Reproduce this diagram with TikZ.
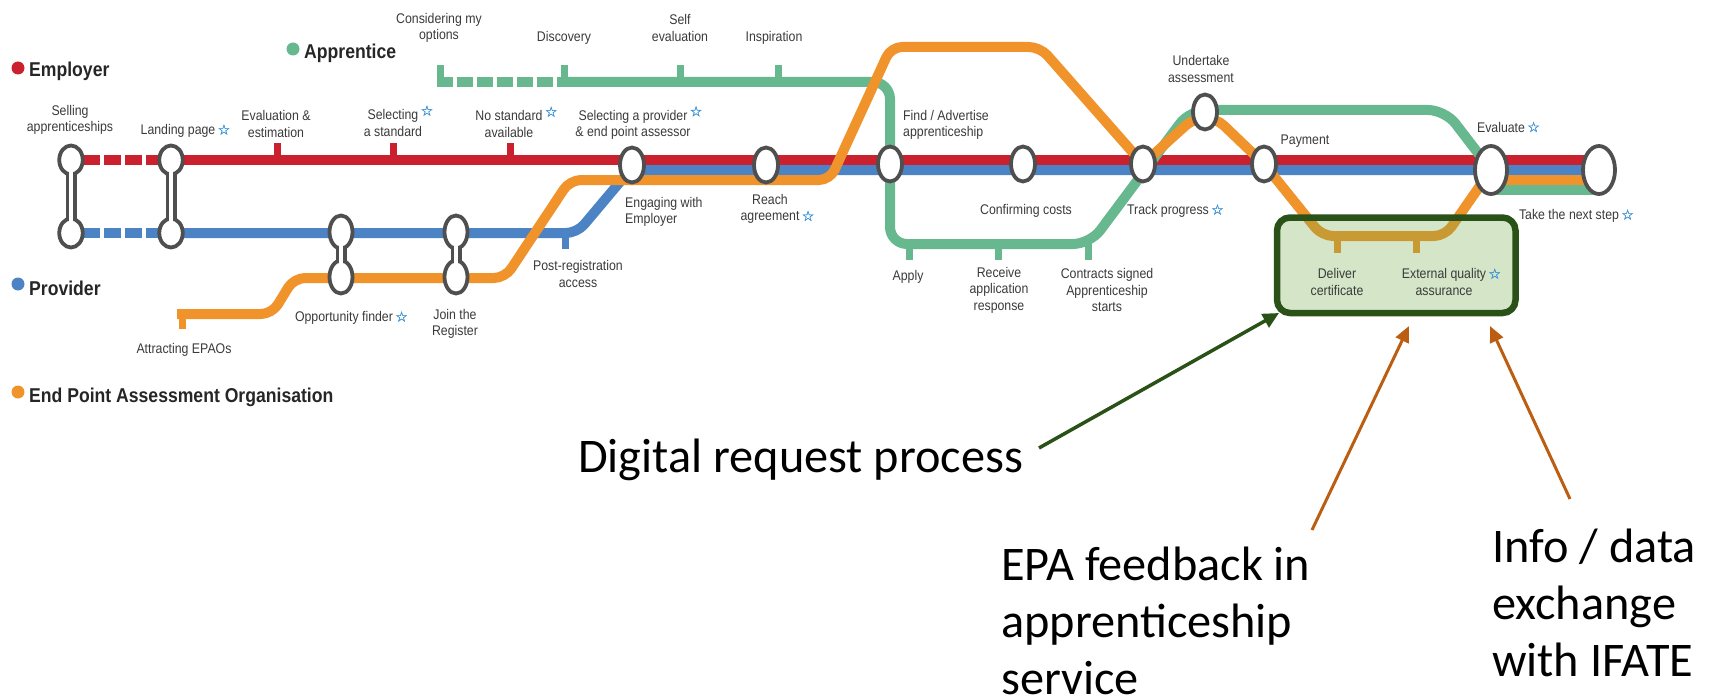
\documentclass[tikz,border=0pt]{standalone}
\usepackage{fontspec}
\usetikzlibrary{arrows.meta,backgrounds,shapes.geometric}
\setmainfont{Liberation Sans}
\newfontfamily\tubefont[FakeStretch=0.88]{Liberation Sans}
\newfontfamily\notefont{Carlito}
\newfontfamily\starfont[FakeBold=1.4]{DejaVu Sans}
\definecolor{tubered}{HTML}{CB202D}
\definecolor{tubeblue}{HTML}{4B83C4}
\definecolor{tubegreen}{HTML}{67B88E}
\definecolor{tubeorange}{HTML}{F0932B}
\definecolor{stopgray}{HTML}{4F4F4F}
\definecolor{labelgray}{HTML}{3A3A3A}
\definecolor{starblue}{HTML}{3F94D6}
\definecolor{boxgreen}{HTML}{70AD47}
\definecolor{boxedge}{HTML}{2A5218}
\definecolor{notebrown}{HTML}{BC5E12}
\newcommand{\bluestar}{\textcolor{starblue}{\starfont\fontsize{14}{14}\selectfont ☆}}
\newcommand{\upstar}{\rlap{\raisebox{4pt}{\,\bluestar}}}
\newcommand{\sidestar}{\rlap{\,\bluestar}}
\tikzset{
	tube/.style={line width=10pt,line join=round,rounded corners=11pt},
	redtube/.style={tube,tubered},
	bluetube/.style={tube,tubeblue},
	greentube/.style={tube,tubegreen,rounded corners=17pt},
	orangetube/.style={tube,tubeorange},
	dashtube/.style={dash pattern=on 17pt off 4pt,dash phase=9pt},
	branch/.style={line width=7pt},
	stop/.style={ellipse,draw=stopgray,fill=white,line width=3.8pt,inner sep=0pt,minimum width=23.5pt,minimum height=29pt},
	waiststop/.style={stop,minimum width=23pt,minimum height=33pt},
	bigstop/.style={stop,minimum width=24pt,minimum height=35pt},
	hugestop/.style={stop,minimum width=32pt,minimum height=48pt},
	linkout/.style={line width=11pt,stopgray},
	linkin/.style={line width=4pt,white},
	lbl/.style={font=\tubefont\fontsize{14}{16.6}\selectfont,text=labelgray,align=center,inner sep=0pt},
	legend/.style={font=\tubefont\bfseries\fontsize{20}{22}\selectfont,text=black!85,anchor=west,inner sep=0pt},
	dot/.style={circle,inner sep=0pt,minimum size=13pt},
	note/.style={font=\notefont\fontsize{48.3}{57}\selectfont,text=black,align=left,anchor=west,inner sep=0pt},
	greenpointer/.style={boxedge,line width=3.5pt,-{Triangle[length=16pt,width=15pt]}},
	brownpointer/.style={notebrown,line width=3pt,-{Triangle[length=16pt,width=14pt]}}
}
\begin{document}
\begin{tikzpicture}[x=1pt,y=-1pt]
	\useasboundingbox (0,0) rectangle (1716,698);

	\node[stop] (sellingtop) at (71,160) {};
	\node[stop] (sellingbottom) at (71,233) {};
	\node[stop] (landingtop) at (171,160) {};
	\node[stop] (landingbottom) at (171,233) {};
	\node[waiststop] (finderblue) at (341,232) {};
	\node[waiststop] (finderorange) at (341,277) {};
	\node[waiststop] (joinblue) at (456,232) {};
	\node[waiststop] (joinorange) at (456,277) {};
	\node[bigstop] (engaging) at (632,165) {};
	\node[bigstop] (reach) at (766,165) {};
	\node[bigstop] (advertise) at (890,164) {};
	\node[bigstop] (costs) at (1023,164) {};
	\node[bigstop] (track) at (1143,164) {};
	\node[bigstop] (undertake) at (1205,112) {};
	\node[bigstop] (payment) at (1264,164) {};
	\node[hugestop] (evaluate) at (1491,170) {};
	\node[hugestop] (nextstep) at (1599,170) {};

	\coordinate (epaostart) at (182,329);
	\coordinate (optionsstart) at (440,65);

	\begin{scope}[on background layer]
		\draw[redtube,dashtube] (sellingtop.center) -- (landingtop.center);
		\draw[redtube] (landingtop.center) -- (nextstep.center |- 0,160);
		\draw[branch,tubered] (277,143) -- (277,160);
		\draw[branch,tubered] (393,143) -- (393,160);
		\draw[branch,tubered] (510,143) -- (510,160);

		\draw[bluetube,dashtube] (sellingbottom.center) -- (landingbottom.center);
		\draw[bluetube] (landingbottom.center) -- (577,233) -- (630,170) -- (nextstep.center);
		\draw[branch,tubeblue] (565,233) -- (565,249);

		\draw[branch,tubegreen] (optionsstart) -- (440,87);
		\draw[branch,tubegreen] (564,65) -- (564,82);
		\draw[branch,tubegreen] (680,65) -- (680,82);
		\draw[branch,tubegreen] (778,65) -- (778,82);
		\draw[branch,tubegreen] (909,244) -- (909,260);
		\draw[branch,tubegreen] (998,244) -- (998,260);
		\draw[branch,tubegreen] (1088,244) -- (1088,260);
		\draw[tube,tubegreen,dash pattern=on 16pt off 4pt] (437,82) -- (564,82);
		\draw[greentube] (564,82) -- (890,82) -- (advertise.center);
		\draw[greentube] (advertise.center) -- (890,244) -- (1090,244) -- (1190,110) -- (1445,110) -- (evaluate.center);
		\draw[tube,tubegreen] (evaluate.center |- 0,190) -- (nextstep.center |- 0,190);

		\draw[branch,tubeorange] (epaostart) -- (182,310);
		\draw[branch,tubeorange] (1337,236) -- (1337,253);
		\draw[branch,tubeorange] (1416,236) -- (1416,253);
		\draw[orangetube] (177,314) -- (272,314) -- (294,278) -- (505,278) -- (570,180) -- (830,180) -- (891,47) -- (1040,47) -- (track.center) -- (1194,118) -- (1216,118) -- (payment.center) -- (1322,236) -- (1445,236) -- (evaluate.center);
		\draw[orangetube] (evaluate.center |- 0,180) -- (nextstep.center |- 0,180);

		\draw[linkout] (sellingtop.center) -- (sellingbottom.center);
		\draw[linkout] (landingtop.center) -- (landingbottom.center);
		\draw[linkout] (finderblue.center) -- (finderorange.center);
		\draw[linkout] (joinblue.center) -- (joinorange.center);
	\end{scope}

	\draw[linkin] (sellingtop.center) -- (sellingbottom.center);
	\draw[linkin] (landingtop.center) -- (landingbottom.center);
	\draw[linkin] (finderblue.center) -- (finderorange.center);
	\draw[linkin] (joinblue.center) -- (joinorange.center);

	\filldraw[fill=boxgreen,fill opacity=0.3,draw=boxedge,line width=6.5pt,rounded corners=13pt] (1277,217.5) rectangle (1515.5,313);
	\coordinate (certbox) at (1279,313);

	\node[dot,fill=tubered] (employerdot) at (18,68) {};
	\node[legend] (employer) at (29,71) {Employer};
	\node[dot,fill=tubegreen] (apprenticedot) at (293,49) {};
	\node[legend] (apprentice) at (304,53) {Apprentice};
	\node[dot,fill=tubeblue] (providerdot) at (18,284) {};
	\node[legend] (provider) at (29,288) {Provider};
	\node[dot,fill=tubeorange] (epaodot) at (18,392) {};
	\node[legend] (epao) at (29,397) {End Point Assessment Organisation};

	\node[lbl] (selling) at (70,120) {Selling\\apprenticeships};
	\node[lbl] (landing) at (178,131) {Landing page\sidestar};
	\node[lbl] (evaluation) at (276,124) {Evaluation \&\\estimation};
	\node[lbl] (standard) at (393,121) {Selecting\upstar\\a standard};
	\node[lbl] (nostandard) at (509,122) {No standard\upstar\\available};
	\node[lbl] (options) at (439,28) {Considering my\\options};
	\node[lbl] (discovery) at (564,38) {Discovery};
	\node[lbl] (selfeval) at (680,28) {Self\\evaluation};
	\node[lbl] (inspiration) at (774,38) {Inspiration};
	\node[lbl] (provideruse) at (633,123) {Selecting a provider\upstar\\\& end point assessor};
	\node[lbl,anchor=west,align=left] (advertiselbl) at (903,125) {Find / Advertise\\apprenticeship};
	\node[lbl,anchor=west,align=left] (engagingbl) at (625,212) {Engaging with\\Employer};
	\node[lbl] (reachlbl) at (770,209) {Reach\\agreement\sidestar};
	\node[lbl] (costslbl) at (1026,211) {Confirming costs};
	\node[lbl] (apply) at (908,277) {Apply};
	\node[lbl] (receive) at (999,290) {Receive\\application\\response};
	\node[lbl] (contracts) at (1107,290) {Contracts signed\\Apprenticeship\\starts};
	\node[lbl] (postreg) at (578,274) {Post-registration\\access};
	\node[lbl] (attracting) at (184,350) {Attracting EPAOs};
	\node[lbl] (finder) at (344,318) {Opportunity finder\sidestar};
	\node[lbl] (joinreg) at (455,324) {Join the\\Register};
	\node[lbl] (undertakelbl) at (1201,69) {Undertake\\assessment};
	\node[lbl] (paymentlbl) at (1305,141) {Payment};
	\node[lbl] (evaluatelbl) at (1501,127) {Evaluate\sidestar};
	\node[lbl] (tracklbl) at (1168,211) {Track progress\sidestar};
	\node[lbl] (nextlbl) at (1569,216) {Take the next step\sidestar};
	\node[lbl] (deliver) at (1337,282) {Deliver\\certificate};
	\node[lbl] (external) at (1444,282) {External quality\sidestar\\assurance};

	\node[note] (request) at (578,460) {Digital request process};
	\node[note] (feedback) at (1001,621) {EPA feedback in\\apprenticeship\\service};
	\node[note] (exchange) at (1492,603) {Info / data\\exchange\\with IFATE};

	\coordinate (requestend) at (1039,448);
	\coordinate (feedbackend) at (1312,530);
	\coordinate (exchangeend) at (1570,499);
	\coordinate (feedbacktip) at (1409,326);
	\coordinate (exchangetip) at (1490,326);
	\draw[greenpointer] (requestend) -- (certbox);
	\draw[brownpointer] (feedbackend) -- (feedbacktip);
	\draw[brownpointer] (exchangeend) -- (exchangetip);
\end{tikzpicture}
\end{document}
